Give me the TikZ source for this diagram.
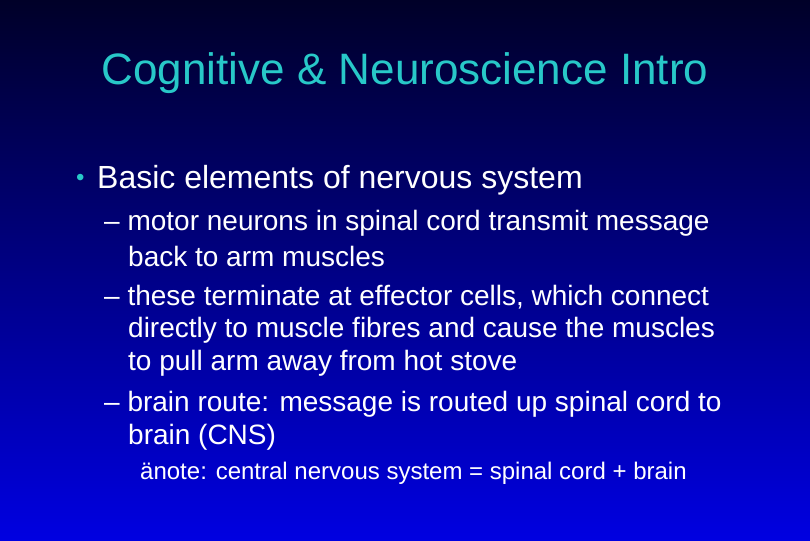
\documentclass[tikz,border=0pt]{standalone}
\usepackage{fontspec}
\setmainfont{Liberation Sans}
\begin{document}
\begin{tikzpicture}[x=1pt,y=-1pt,
 txt/.style={anchor=west,inner sep=0pt,text=white,font=\fontsize{28}{28}\selectfont},
 note/.style={anchor=west,inner sep=0pt,text=white,font=\fontsize{24}{24}\selectfont}]
\definecolor{topc}{RGB}{0,0,40}
\definecolor{botc}{RGB}{0,0,225}
\definecolor{titlec}{RGB}{40,200,200}
\shade[top color=topc,bottom color=botc] (0,0) rectangle (810,540);
\useasboundingbox (0,0) rectangle (810,540);
\node[inner sep=0pt,text=titlec,font=\fontsize{44}{44}\selectfont] (title) at (405,73) {Cognitive \& Neuroscience Intro};
\node[txt,text=titlec,font=\fontsize{24}{24}\selectfont] (b1) at (76,180) {•};
\node[txt,font=\fontsize{32}{32}\selectfont] (l1) at (97,180) {Basic elements of nervous system};
\node[txt] (l2) at (104,223) {– motor neurons in spinal cord transmit message};
\node[txt] (l3) at (128,256) {back to arm muscles};
\node[txt] (l4) at (104,297) {– these terminate at effector cells, which connect};
\node[txt] (l5) at (128,330) {directly to muscle fibres and cause the muscles};
\node[txt] (l6) at (128,363) {to pull arm away from hot stove};
\node[txt] (l7) at (104,404) {– brain route: message is routed up spinal cord to};
\node[txt] (l8) at (128,437) {brain (CNS)};
\node[note] (l9) at (140,473) {ä{}note: central nervous system = spinal cord + brain};
\end{tikzpicture}
\end{document}
